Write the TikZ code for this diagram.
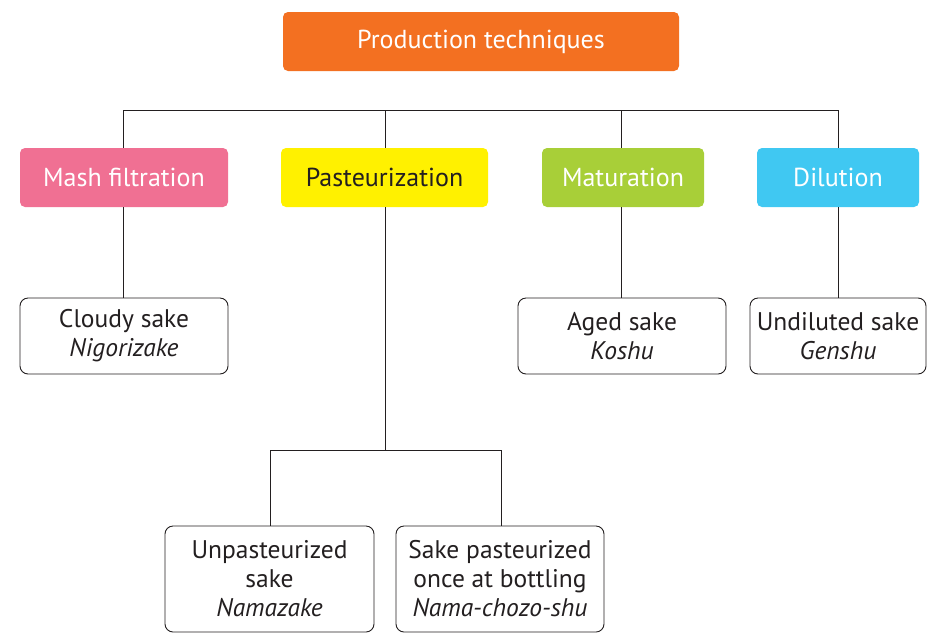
\documentclass[tikz,border=0pt]{standalone}
\usepackage{fontspec}
\setmainfont{PT Sans}
\definecolor{corange}{HTML}{F37021}
\definecolor{cpink}{HTML}{F07093}
\definecolor{cyellow}{HTML}{FFF100}
\definecolor{cgreen}{HTML}{A8CF38}
\definecolor{ccyan}{HTML}{40C8F2}
\definecolor{ink}{HTML}{231F20}
\tikzset{
  catbox/.style={rounded corners=5pt, inner sep=0pt, font=\fontsize{26}{29}\selectfont, text=white},
  leafbox/.style={draw=ink, line width=0.9pt, fill=white, rounded corners=8pt, inner sep=0pt, align=center, text=ink, font=\fontsize{25.5}{29}\selectfont},
  link/.style={draw=ink, line width=0.9pt}
}
\begin{document}
\begin{tikzpicture}[x=1pt,y=-1pt]
\useasboundingbox (0,0) rectangle (927,633);
% top
\node[catbox, fill=corange, minimum width=396pt, minimum height=59pt] (top) at (481,41.5) {Production techniques};
% category row
\node[catbox, fill=cpink, minimum width=208pt, minimum height=59pt] (mash) at (124,177.5) {Mash filtration};
\node[catbox, fill=cyellow, text=ink, minimum width=207pt, minimum height=59pt] (past) at (384.5,177.5) {Pasteurization};
\node[catbox, fill=cgreen, minimum width=162pt, minimum height=59pt] (mat) at (623,177.5) {Maturation};
\node[catbox, fill=ccyan, minimum width=162pt, minimum height=59pt] (dil) at (838,177.5) {Dilution};
% leaves
\node[leafbox, minimum width=208pt, minimum height=76pt] (cloudy) at (124,336) {Cloudy sake\\\textit{Nigorizake}};
\node[leafbox, minimum width=208pt, minimum height=76pt] (aged) at (622,336) {Aged sake\\\textit{Koshu}};
\node[leafbox, minimum width=176pt, minimum height=76pt] (undil) at (838,336) {Undiluted sake\\\textit{Genshu}};
\node[leafbox, minimum width=209pt, minimum height=106pt] (unpast) at (269.5,579) {Unpasteurized\\sake\\\textit{Namazake}};
\node[leafbox, minimum width=208pt, minimum height=106pt] (once) at (500,579) {Sake pasteurized\\once at bottling\\\textit{Nama-chozo-shu}};
% connectors
\draw[link] (mash.north -| 123,0) -- (123,110) -- (838,110) -- (dil.north -| 838,0);
\draw[link] (385,110) -- (past.north -| 385,0);
\draw[link] (621,110) -- (mat.north -| 621,0);
\draw[link] (mash.south -| 123,0) -- (cloudy.north -| 123,0);
\draw[link] (mat.south -| 621,0) -- (aged.north -| 621,0);
\draw[link] (dil.south -| 838,0) -- (undil.north -| 838,0);
\draw[link] (past.south -| 385,0) -- (385,450);
\draw[link] (unpast.north -| 270,0) -- (270,450) -- (501,450) -- (once.north -| 501,0);
\end{tikzpicture}
\end{document}
